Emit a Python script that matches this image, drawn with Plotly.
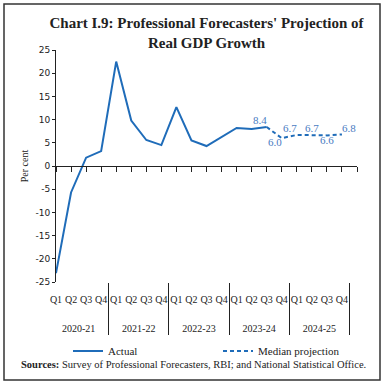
import plotly.graph_objects as go

years = ["2020-21"] * 4 + ["2021-22"] * 4 + ["2022-23"] * 4 + ["2023-24"] * 4 + ["2024-25"] * 4
quarters = ["Q1", "Q2", "Q3", "Q4"] * 5

actual = [-23.1, -5.7, 1.8, 3.2,
          22.5, 9.8, 5.6, 4.5,
          12.7, 5.5, 4.3, 6.2,
          8.2, 8.0, 8.4, None,
          None, None, None, None]
projection = [None] * 14 + [8.4, 6.0, 6.7, 6.7, 6.6, 6.8]

label_idx = [14, 15, 16, 17, 18, 19]
label_text = ["8.4", "6.0", "6.7", "6.7", "6.6", "6.8"]
label_pos = ["top left", "bottom left", "top left", "top center", "bottom center", "top right"]

y_ticks = [25, 20, 15, 10, 5, 0, -5, -10, -15, -20, -25]
y_ticktext = ["25", "20", "15", "10", "5", "0", "-5", "-10", "-15", "-20", "-25"]

LINE = "#1f6cb9"
LBL = "#4a7cc2"
DARK = "#222222"
SERIF = "Liberation Serif"

# quarter labels with extra blank lines to push the year row down
q_disp = [q + "<br> <br> " for q in quarters]

fig = go.Figure()
fig.add_trace(go.Scatter(x=[years, q_disp], y=actual, mode="lines", name="Actual",
                         line=dict(color=LINE, width=2), connectgaps=False, legend="legend"))
fig.add_trace(go.Scatter(x=[years, q_disp], y=projection, mode="lines", name="Median projection",
                         line=dict(color=LINE, width=2, dash="4px,3px"), connectgaps=False,
                         legend="legend2"))
fig.add_trace(go.Scatter(x=[[years[i] for i in label_idx], [q_disp[i] for i in label_idx]],
                         y=[projection[i] for i in label_idx], mode="text", text=label_text,
                         textposition=label_pos, textfont=dict(family=SERIF, size=11, color=LBL),
                         showlegend=False, hoverinfo="skip"))
# dummy trace for zero-line axis
fig.add_trace(go.Scatter(x=[0, 20], y=[None, None], xaxis="x2", mode="lines",
                         showlegend=False, hoverinfo="skip"))

L, R, T, B = 56, 27, 50, 103
W, H = 384 - L - R, 385 - T - B
def px(x):
    return (x - L) / W
def py(y):
    return (385 - B - y) / H

fig.add_shape(type="rect", xref="paper", yref="paper", x0=px(4), x1=px(380), y0=py(4), y1=py(380),
              line=dict(color="#333333", width=1.5), layer="below")

fig.add_annotation(xref="paper", yref="paper", x=px(193), y=py(364),
                   text="<b>Sources:</b> Survey of Professional Forecasters, RBI; and National Statistical Office.",
                   showarrow=False, font=dict(family=SERIF, size=10.5, color=DARK),
                   xanchor="center", yanchor="middle")

legend_common = dict(orientation="h", yanchor="middle", xanchor="left",
                     font=dict(family=SERIF, size=11, color=DARK), bgcolor="rgba(0,0,0,0)")

fig.update_layout(
    width=384, height=385,
    margin=dict(l=L, r=R, t=T, b=B),
    paper_bgcolor="white", plot_bgcolor="white",
    title=dict(text="<b>Chart I.9: Professional Forecasters' Projection of<br>Real GDP Growth</b>",
               x=0.5, xref="paper", xanchor="center", y=1 - 28 / 385, yanchor="middle",
               font=dict(family=SERIF, size=15, color=DARK)),
    showlegend=True,
    legend=dict(x=px(68), y=py(351), **legend_common),
    legend2=dict(x=px(218), y=py(351), **legend_common),
    xaxis=dict(type="multicategory", showdividers=True, dividercolor=DARK, dividerwidth=1,
               showline=False, showgrid=False, zeroline=False, tickangle=0,
               ticks="", ticklabelstandoff=10,
               tickfont=dict(family=SERIF, size=10, color=DARK)),
    xaxis2=dict(overlaying="x", anchor="free", position=0.5, range=[0, 20],
                tickvals=list(range(0, 21)), ticks="outside", ticklen=5, tickcolor=DARK,
                showticklabels=False, showline=True, linecolor=DARK, linewidth=1,
                showgrid=False, zeroline=False),
    yaxis=dict(range=[-25, 25], tickvals=y_ticks, ticktext=y_ticktext,
               showgrid=False, zeroline=False,
               showline=True, linecolor=DARK, linewidth=1, ticks="outside", ticklen=3, tickcolor=DARK,
               tickfont=dict(family="DejaVu Sans", size=9, color=DARK),
               title=dict(text="Per cent", font=dict(family=SERIF, size=10, color=DARK), standoff=4)),
)

fig.write_html("out.html", config={"displayModeBar": False},
               post_script="document.body.style.margin='0';document.body.style.padding='0';document.body.style.overflow='hidden';")
